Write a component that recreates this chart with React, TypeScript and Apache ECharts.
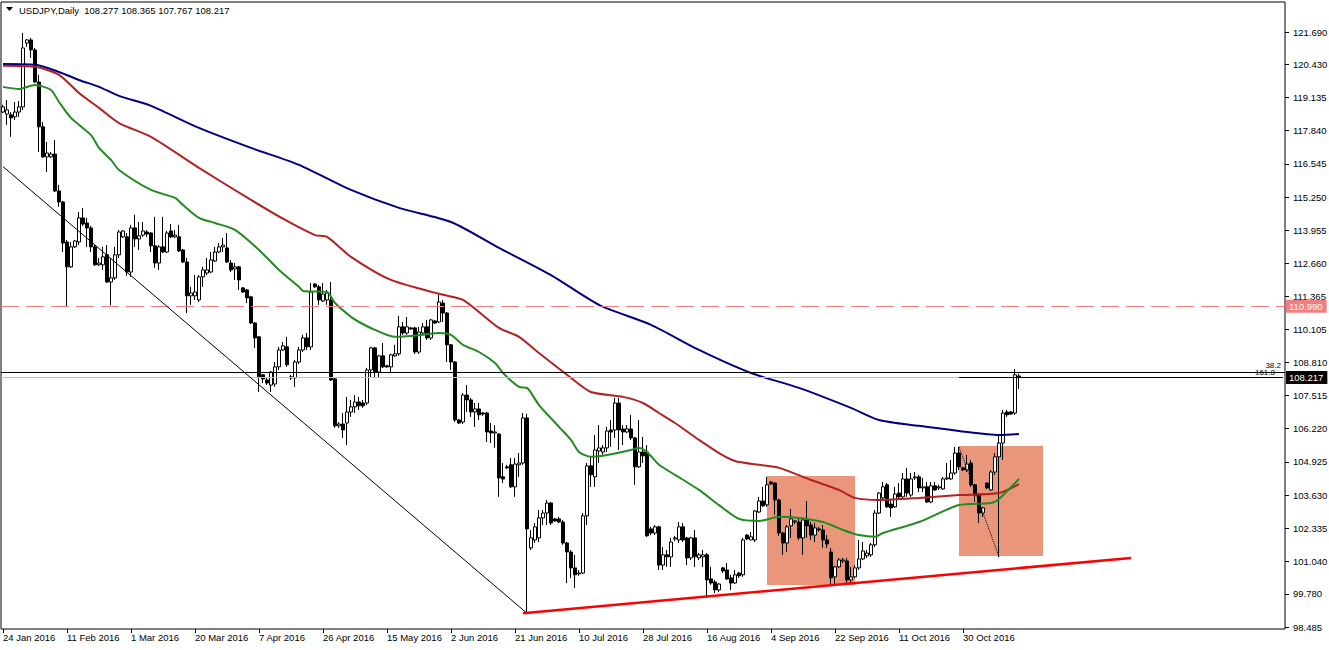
import React, { useEffect, useRef } from "react";
import * as echarts from "echarts";

const FONT = '"Liberation Sans", Arial, sans-serif';
const MONTHS = ["Jan","Feb","Mar","Apr","May","Jun","Jul","Aug","Sep","Oct","Nov","Dec"];
const TOTAL_SLOTS = 321;
const LAST_BAR = 254;
const LABEL_EVERY = 16;

// Calendar categories (Sunday..Friday bars, as the broker feed shows)
function buildCategories(): string[] {
  const out: string[] = [];
  let t = Date.UTC(2016, 0, 24);
  while (out.length < TOTAL_SLOTS) {
    const d = new Date(t);
    if (d.getUTCDay() !== 6) out.push(`${d.getUTCDate()} ${MONTHS[d.getUTCMonth()]} ${d.getUTCFullYear()}`);
    t += 86400000;
  }
  return out;
}
const categories = buildCategories();

// [open, close, low, high]
const candles: number[][] = [
  [118.57,118.77,118.53,118.85],[118.49,118.65,118.07,119.04],[118.46,118.34,117.60,118.57],[118.38,118.57,118.26,118.96],
  [118.57,118.77,118.38,119.00],[118.77,121.07,118.65,121.65],[121.26,121.38,121.11,121.42],[121.38,120.99,120.68,121.46],
  [120.99,119.74,119.70,121.07],[119.74,117.99,117.01,120.02],[117.99,116.82,116.78,118.18],[116.82,116.97,116.23,117.40],
  [116.82,116.93,116.78,117.01],[116.93,115.49,115.45,117.48],[115.49,115.06,114.87,115.73],[115.06,113.46,113.11,115.10],
  [113.50,112.53,110.99,113.58],[112.53,113.31,112.49,113.50],[113.31,113.54,113.27,113.58],[113.50,114.44,113.38,114.67],
  [114.44,114.20,114.13,114.83],[114.24,114.05,113.31,114.44],[114.05,113.31,113.11,114.13],[113.31,112.61,112.57,113.38],
  [112.61,112.68,112.57,112.88],[112.61,112.92,112.41,113.31],[113.00,111.94,111.90,113.38],[111.94,112.10,111.03,112.88],
  [112.10,113.00,112.02,113.31],[113.00,113.89,112.88,113.97],[113.70,113.93,113.66,113.97],[113.70,112.33,112.18,113.85],
  [112.33,114.05,112.14,114.17],[114.05,113.62,113.31,114.56],[113.62,113.74,113.19,114.28],[113.77,113.93,113.70,114.28],
  [113.89,113.81,113.70,113.97],[113.85,113.35,113.11,113.89],[113.35,112.68,112.49,114.48],[112.68,113.31,112.41,113.38],
  [113.31,113.11,113.07,114.48],[113.11,113.85,113.07,113.93],[113.93,113.70,113.66,114.20],[113.70,113.77,113.66,113.97],
  [113.70,113.15,113.11,114.17],[113.19,112.72,112.68,113.23],[112.72,111.40,110.73,112.88],[111.40,111.51,111.05,111.75],
  [111.40,111.55,111.24,112.21],[111.24,112.14,111.16,112.21],[112.14,112.41,111.75,112.53],[112.29,112.41,112.21,112.88],
  [112.33,112.80,112.29,113.11],[112.76,113.11,112.72,113.31],[113.11,113.31,113.07,113.46],[113.31,113.38,113.11,113.66],
  [113.27,112.72,112.68,113.85],[112.68,112.41,112.33,112.80],[112.45,112.53,112.02,112.68],[112.53,112.02,111.63,112.57],
  [111.71,111.55,111.51,111.75],[111.63,111.32,111.12,111.67],[111.36,110.34,110.30,111.40],[110.34,109.76,109.37,110.38],
  [109.80,108.24,107.65,109.84],[108.32,108.16,108.00,108.35],[108.12,108.00,107.92,108.20],[107.92,108.43,107.65,108.47],
  [107.96,108.63,107.85,108.82],[108.63,109.29,108.51,109.41],[109.29,109.45,109.25,109.60],[109.41,108.71,108.63,109.80],
  [108.24,108.20,108.12,108.32],[108.20,108.82,107.85,108.90],[108.82,109.29,108.74,109.41],[109.29,109.76,109.21,109.88],
  [109.76,109.41,109.29,109.95],[109.41,111.55,109.29,111.90],[111.86,111.75,111.71,111.90],[111.75,111.24,111.05,111.83],
  [111.20,111.47,111.16,111.90],[111.24,111.51,111.05,111.63],[111.24,108.12,108.08,111.94],[108.16,106.33,106.25,108.20],
  [106.33,106.40,106.25,106.48],[106.40,106.17,105.86,106.83],[106.44,106.87,105.58,107.46],[106.87,107.07,106.68,107.34],
  [107.07,107.26,106.83,107.53],[107.26,107.11,106.95,107.46],[107.22,107.11,107.03,107.34],[107.22,108.51,107.14,108.59],
  [108.51,109.37,108.24,109.41],[109.37,108.43,108.24,109.41],[108.43,109.06,108.20,109.10],[109.06,108.63,108.59,109.56],
  [108.67,108.63,108.59,108.71],[108.63,109.10,108.43,109.14],[109.06,109.14,109.02,109.49],[109.14,110.19,109.06,110.62],
  [110.19,109.95,109.88,110.38],[109.95,110.19,109.88,110.58],[110.15,110.11,110.07,110.19],[110.15,109.21,109.13,110.19],
  [109.21,109.99,109.13,110.19],[109.95,110.19,109.88,110.34],[110.19,109.76,109.68,110.46],[109.76,110.46,109.68,110.50],
  [110.42,110.34,110.30,110.46],[110.38,111.16,110.34,111.44],[111.12,110.73,110.38,111.24],[110.73,109.49,108.82,110.77],
  [109.49,108.82,108.51,109.52],[108.82,106.56,106.48,108.86],[106.56,106.44,106.40,106.60],[106.48,107.53,106.40,107.61],
  [107.53,107.34,106.87,107.92],[107.34,106.87,106.68,107.42],[106.87,106.99,106.29,107.22],[106.99,106.76,106.56,107.22],
  [106.83,106.79,106.72,106.87],[106.83,106.09,105.70,106.87],[106.13,106.05,105.66,106.44],[106.05,106.09,105.47,106.36],
  [106.01,104.30,103.56,106.05],[104.34,104.26,104.10,104.88],[104.73,104.69,104.65,104.81],[104.81,103.95,103.91,105.08],
  [103.95,104.84,103.56,105.08],[104.81,104.88,104.34,105.27],[104.88,106.64,104.81,106.83],[106.64,102.31,99.02,106.80],
  [101.57,101.96,101.49,102.27],[101.88,102.39,101.76,102.54],[101.96,102.74,101.80,103.05],[102.74,102.93,102.46,103.05],
  [102.93,103.32,102.46,103.44],[103.32,102.54,102.46,103.36],[102.70,102.62,102.58,102.74],[102.70,102.58,102.54,102.78],
  [102.58,101.76,101.69,102.66],[101.76,101.41,100.20,101.80],[101.41,100.79,100.40,101.49],[100.79,100.52,100.01,101.30],
  [100.56,100.59,100.48,100.71],[100.59,102.82,100.55,102.93],[102.82,104.77,102.46,104.88],[104.77,104.42,103.95,105.12],
  [104.34,105.39,103.95,105.97],[105.35,105.47,104.88,106.36],[105.31,105.47,105.20,105.58],[105.47,106.13,105.31,106.29],
  [106.17,106.09,105.51,106.56],[106.17,107.22,105.86,107.42],[107.22,106.17,105.39,107.42],[106.21,106.09,105.58,106.36],
  [106.09,106.21,106.05,106.36],[106.21,105.86,105.78,106.76],[105.86,104.73,104.03,105.90],[104.73,105.31,104.69,106.56],
  [105.31,105.16,104.88,105.90],[105.31,102.04,102.00,105.58],[102.31,102.15,102.07,102.39],[102.15,102.39,102.07,102.46],
  [102.39,100.90,100.71,102.43],[100.90,101.30,100.71,101.61],[101.30,101.22,100.83,101.49],[101.22,101.80,100.83,101.96],
  [101.92,101.96,101.84,102.04],[101.88,102.39,101.76,102.58],[102.39,101.88,101.80,102.54],[101.96,101.18,100.90,102.00],
  [101.18,101.96,101.10,102.00],[101.96,101.22,100.83,102.27],[101.18,101.30,101.10,101.37],[101.22,101.30,100.83,101.49],
  [101.30,100.32,99.62,101.37],[100.36,100.20,100.13,100.83],[100.24,99.93,99.81,100.32],[99.93,100.16,99.85,100.20],
  [100.79,100.67,100.59,100.83],[100.71,100.36,100.32,100.98],[100.40,100.20,99.93,100.52],[100.20,100.52,100.16,100.71],
  [100.59,100.48,100.40,100.63],[100.52,101.88,100.44,101.96],[102.07,101.92,101.88,102.11],[101.88,102.00,101.88,102.19],
  [101.88,103.01,101.80,103.05],[102.97,103.40,102.93,103.56],[103.40,103.21,103.17,103.95],[103.25,104.03,103.17,104.34],
  [104.14,104.06,104.03,104.18],[104.10,103.44,102.85,104.14],[103.44,102.15,102.04,103.48],[102.15,101.76,101.30,102.19],
  [101.76,102.39,101.41,102.46],[102.43,102.70,101.96,103.09],[102.58,102.62,102.50,102.66],[102.58,101.96,101.88,102.74],
  [101.96,102.66,101.30,102.74],[102.66,102.43,101.96,103.40],[102.46,102.07,101.88,102.58],[102.07,102.35,101.80,102.54],
  [102.31,102.27,102.19,102.39],[102.27,101.88,101.57,102.46],[101.88,101.72,101.57,102.07],[101.41,100.40,100.13,101.57],
  [100.44,100.83,100.13,100.87],[100.83,101.10,100.79,101.18],[101.06,101.10,100.98,101.18],[101.06,100.32,100.20,101.18],
  [100.32,100.44,100.16,100.83],[100.44,100.79,100.40,100.90],[100.79,101.14,100.71,101.88],[101.14,101.45,101.10,101.80],
  [101.26,101.37,101.18,101.49],[101.30,101.69,101.22,101.76],[101.69,102.93,101.61,103.05],[102.93,103.71,102.89,103.75],
  [103.52,103.95,103.44,104.14],[104.03,103.17,103.13,104.10],[103.28,103.13,102.78,103.44],[103.17,103.67,103.13,103.95],
  [103.71,103.56,103.48,104.10],[103.56,104.26,103.52,104.49],[104.26,103.71,103.56,104.69],[103.63,104.26,103.56,104.49],
  [104.30,104.34,104.22,104.53],[104.34,103.91,103.75,104.42],[103.91,103.95,103.75,104.30],[103.95,103.36,103.32,104.14],
  [103.36,103.99,103.32,104.14],[103.99,103.83,103.79,104.14],[103.91,103.95,103.83,104.03],[103.87,104.26,103.83,104.34],
  [104.26,104.30,104.22,104.88],[104.26,104.49,104.22,105.00],[104.49,105.27,104.42,105.51],[105.27,104.73,104.61,105.51],
  [104.69,104.61,104.57,104.73],[104.61,104.84,104.53,105.20],[104.88,104.03,103.95,105.00],[104.03,103.63,103.36,104.06],
  [103.63,102.93,102.54,103.71],[102.93,103.13,102.78,103.17],[104.10,103.91,103.87,104.14],[103.83,104.53,103.79,104.61],
  [104.53,105.12,104.42,105.27],[105.12,105.66,101.22,105.94],[105.66,106.83,105.00,106.95],[106.87,106.76,106.68,106.95],
  [106.87,106.79,106.76,106.91],[106.83,108.32,106.76,108.55],[108.277,108.217,107.767,108.365],
];

// Moving averages: [barIndex, value]
const maBlue: number[][] = [
  [0,120.44],[8,120.41],[14,120.13],[19,119.82],[24,119.55],[29,119.20],[37,118.81],[49,117.95],[62,117.17],
  [74,116.51],[87,115.53],[99,114.83],[112,114.28],[124,113.27],[137,112.21],[149,111.05],[162,110.27],
  [174,109.29],[187,108.39],[199,107.81],[212,107.03],[219,106.56],[229,106.33],[239,106.13],[249,105.97],[254,106.01],
];
const maRed: number[][] = [
  [0,120.37],[8,120.33],[14,120.02],[19,119.31],[24,118.73],[29,118.14],[37,117.60],[49,116.39],[62,115.14],
  [71,114.32],[78,113.77],[81,113.70],[87,112.92],[97,112.02],[110,111.44],[115,111.24],[124,110.15],[129,109.80],
  [134,109.17],[142,108.20],[147,107.65],[155,107.46],[160,107.22],[164,106.83],[168,106.44],[174,105.78],
  [179,105.27],[183,104.96],[189,104.81],[194,104.69],[202,104.22],[209,103.83],[213,103.52],[219,103.44],
  [229,103.52],[239,103.63],[249,103.71],[254,104.06],
];
const maGreen: number[][] = [
  [0,119.55],[4,119.47],[8,119.62],[12,119.43],[14,118.96],[17,118.34],[22,117.67],[24,117.17],[27,116.70],
  [29,116.31],[37,115.53],[43,115.22],[45,114.94],[49,114.44],[53,114.24],[58,113.97],[64,113.19],[69,112.41],
  [74,111.75],[75,111.59],[81,111.55],[83,111.12],[87,110.58],[89,110.38],[93,110.07],[98,109.80],[105,109.88],
  [109,109.95],[112,109.88],[115,109.49],[119,109.21],[123,108.78],[125,108.39],[129,107.85],[131,107.81],
  [134,107.14],[139,106.29],[142,105.78],[144,105.31],[147,105.12],[150,105.16],[157,105.39],[159,105.47],
  [161,105.31],[164,104.81],[168,104.42],[174,103.83],[179,103.24],[184,102.70],[189,102.62],[194,102.78],
  [199,102.74],[205,102.58],[210,102.27],[214,102.07],[218,102.00],[220,102.15],[229,102.58],[239,103.24],
  [247,103.32],[249,103.48],[254,104.26],
];

// Right-hand price scale labels
const yTickLabels = [
  "121.690","120.430","119.135","117.840","116.545","115.250","113.955","112.660","111.365","110.105",
  "108.810","107.515","106.220","104.925","103.630","102.335","101.040","99.780","98.485",
];
const yTickValues = yTickLabels.map(Number);
const Y_MIN = 98.407;
const Y_MAX = 122.86;

// Drawn objects
const supportLevel = 110.99;
const bidPrice = 108.217;
const fib382 = 108.43;
const fib1618 = 108.24;
const fibStartBar = 239;
const boxes: number[][] = [
  [191, 104.37, 213, 100.12],
  [239, 105.54, 260, 101.25],
];
const downTrend: number[][] = [[0, 116.44], [131, 99.02]];
const upTrend: number[][] = [[130, 99.02], [282, 101.18]];
const fibDiag: number[][] = [[239, 105.51], [249, 101.22]];

export default function App() {
  const ref = useRef<HTMLDivElement>(null);
  useEffect(() => {
    if (!ref.current) return;
    const chart = echarts.init(ref.current, null, { renderer: "svg" });
    const last = candles[LAST_BAR];
    const header = `USDJPY,Daily  ${last[0].toFixed(3)} ${last[3].toFixed(3)} ${last[2].toFixed(3)} ${last[1].toFixed(3)}`;
    const showLabel = (i: number) => i % LABEL_EVERY === 0 && i <= LAST_BAR;
    const option: any = {
      animation: false,
      backgroundColor: "#fff",
      textStyle: { fontFamily: FONT },
      grid: {
        left: 1, top: 2, width: 1284, bottom: 21,
        show: true, borderColor: "#000", borderWidth: 1, backgroundColor: "#fff",
        containLabel: false, outerBoundsMode: "none",
      },
      xAxis: {
        type: "category",
        data: categories,
        boundaryGap: true,
        axisLine: { show: false },
        axisTick: { show: true, alignWithLabel: true, interval: showLabel, length: 4, lineStyle: { color: "#000", width: 1 } },
        axisLabel: { interval: showLabel, align: "left", margin: 3, color: "#000", fontSize: 9.5, fontFamily: FONT },
        splitLine: { show: false },
      },
      yAxis: {
        type: "value",
        position: "right",
        min: Y_MIN,
        max: Y_MAX,
        axisLine: { show: false },
        axisTick: { show: true, length: 4, customValues: yTickValues, lineStyle: { color: "#000" } },
        axisLabel: {
          customValues: yTickValues, margin: 8, color: "#000", fontSize: 9.5, fontFamily: FONT,
          formatter: (v: number) => v.toFixed(3),
        },
        splitLine: { show: false },
      },
      graphic: [
        { type: "polygon", shape: { points: [[6, 7], [13, 7], [9.5, 11]] }, style: { fill: "#000" } },
        { type: "text", x: 19, y: 10, style: { text: header, fill: "#000", fontSize: 9.5, fontFamily: FONT, verticalAlign: "middle" } },
      ],
      series: [
        {
          type: "line", data: [], z: 1, silent: true,
          markArea: {
            silent: true,
            itemStyle: { color: "#E9967A" },
            data: boxes.map((b) => [{ coord: [b[0], b[1]] }, { coord: [b[2], b[3]] }]),
          },
        },
        {
          type: "candlestick", data: candles, barWidth: 3, z: 2,
          itemStyle: { color: "#fff", color0: "#000", borderColor: "#000", borderColor0: "#000", borderColorDoji: "#000", borderWidth: 1 },
        },
        { type: "line", data: maBlue, smooth: 0.25, symbol: "none", z: 3, lineStyle: { color: "#000080", width: 2 } },
        { type: "line", data: maRed, smooth: 0.25, symbol: "none", z: 3, lineStyle: { color: "#B22222", width: 2 } },
        { type: "line", data: maGreen, smooth: 0.25, symbol: "none", z: 3, lineStyle: { color: "#228B22", width: 2 } },
        {
          type: "line", data: [], z: 4, silent: true,
          markLine: {
            silent: true, symbol: ["none", "none"], animation: false,
            emphasis: { disabled: true },
            data: [
              {
                yAxis: supportLevel,
                lineStyle: { color: "#F08080", type: [18, 7], width: 1 },
                label: { show: true, position: "end", formatter: supportLevel.toFixed(3), backgroundColor: "#F08080", color: "#fff", padding: [2, 4, 1, 3], fontSize: 9.5, fontFamily: FONT, distance: 1 },
              },
              {
                yAxis: fib382,
                lineStyle: { color: "#000", type: "solid", width: 1 },
                label: { show: true, position: "insideEndTop", formatter: "38.2", color: "#000", fontSize: 8, fontFamily: FONT, distance: [4, 3] },
              },
              {
                yAxis: bidPrice,
                lineStyle: { color: "#C0C0C0", type: "solid", width: 1 },
                label: { show: true, position: "end", formatter: bidPrice.toFixed(3), backgroundColor: "#000", color: "#fff", padding: [2, 4, 1, 3], fontSize: 9.5, fontFamily: FONT, distance: 1 },
              },
              [
                { coord: [fibStartBar, fib1618], lineStyle: { color: "#000", type: "solid", width: 1 },
                  label: { show: true, position: "insideEndTop", formatter: "161.8", color: "#000", fontSize: 8, fontFamily: FONT, distance: [8, 0] } },
                { coord: [TOTAL_SLOTS - 1, fib1618] },
              ],
              [
                { coord: downTrend[0], lineStyle: { color: "#000", type: "solid", width: 1 }, label: { show: false } },
                { coord: downTrend[1] },
              ],
              [
                { coord: upTrend[0], lineStyle: { color: "#FF0000", type: "solid", width: 2.5 }, label: { show: false } },
                { coord: upTrend[1] },
              ],
              [
                { coord: fibDiag[0], lineStyle: { color: "#000", type: [1, 1], width: 1 }, label: { show: false } },
                { coord: fibDiag[1] },
              ],
            ],
          },
        },
      ],
    };
    chart.setOption(option);
    return () => chart.dispose();
  }, []);
  return <div ref={ref} style={{ position: "absolute", left: 0, top: 0, width: 1329, height: 650 }} />;
}
